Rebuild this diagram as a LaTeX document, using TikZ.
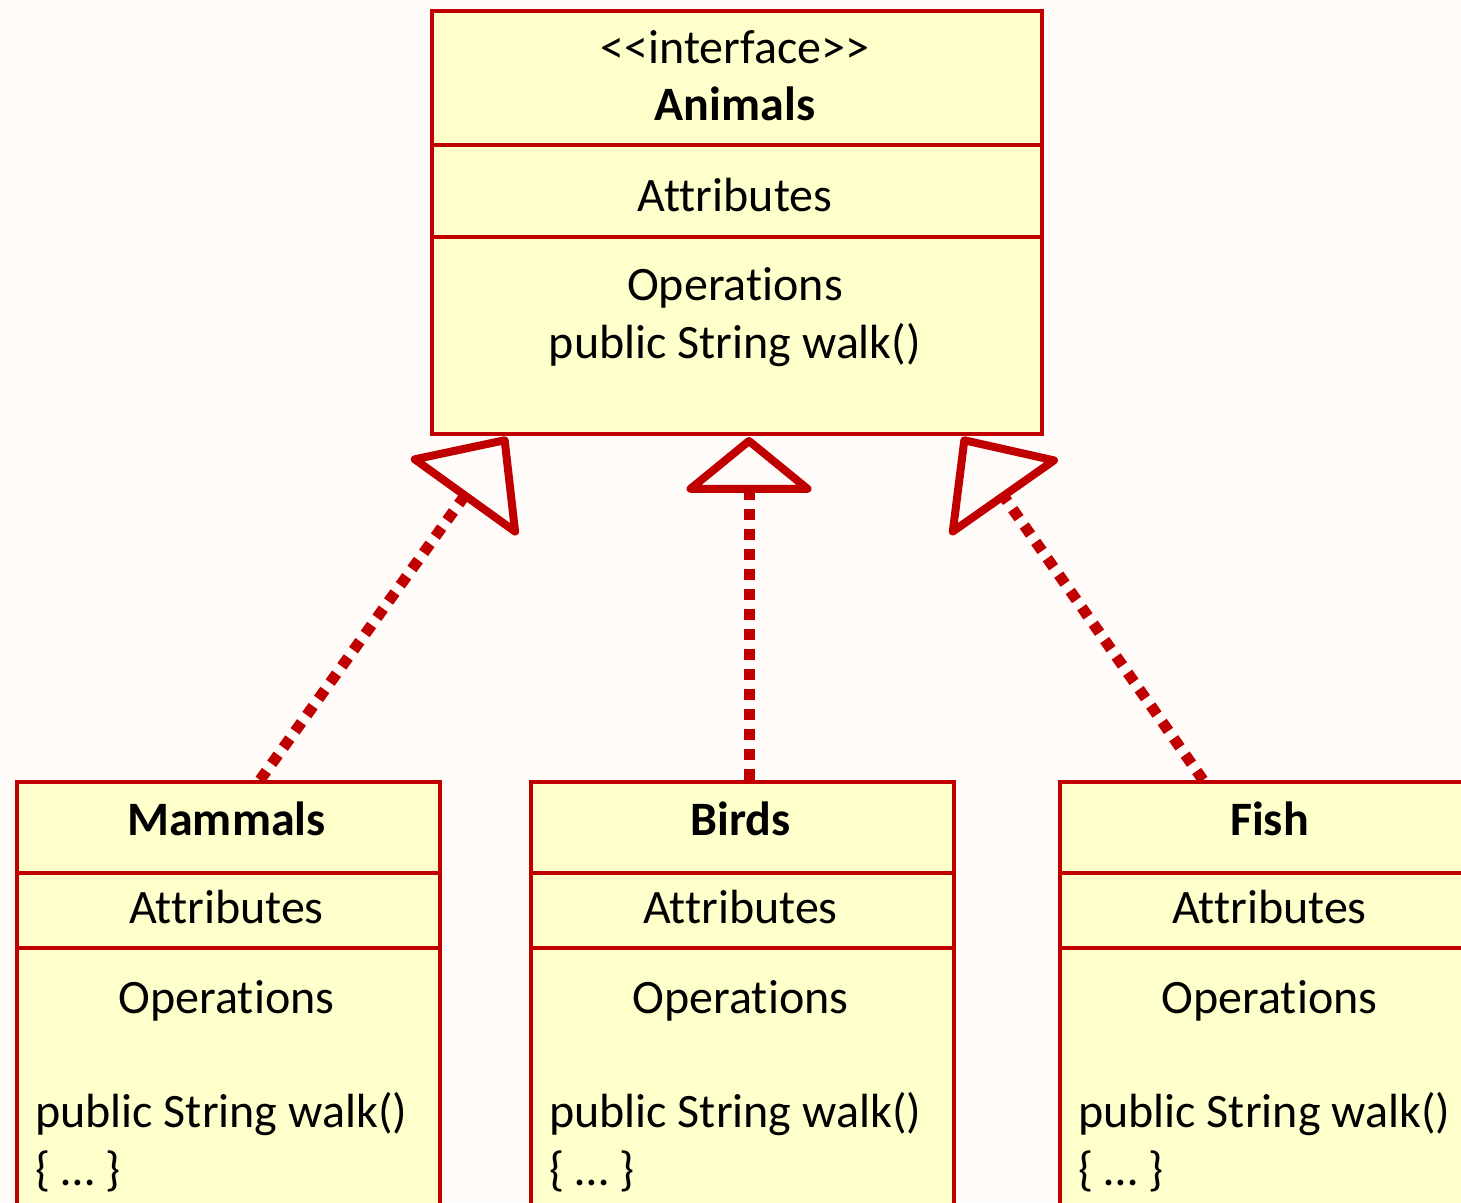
\documentclass[tikz,border=0pt]{standalone}
\usepackage{fontspec}
\setmainfont[Ligatures={NoCommon,NoRequired}]{Carlito}
\usetikzlibrary{arrows.meta,calc}
\definecolor{umlred}{RGB}{192,0,0}
\definecolor{umlfill}{RGB}{255,255,204}
\definecolor{paper}{RGB}{254,251,248}
\begin{document}
\begin{tikzpicture}[x=1pt,y=-1pt,
  classbox/.style={draw=umlred,fill=umlfill,line width=4pt,rectangle,
    anchor=north west,inner sep=0pt},
  divider/.style={draw=umlred,line width=3.5pt},
  txt/.style={font=\fontsize{48}{58}\selectfont,anchor=base,inner sep=0pt},
  clsname/.style={txt,font=\fontsize{48}{58}\selectfont\bfseries},
  lefttxt/.style={txt,anchor=base west},
  realize/.style={draw=umlred,line width=11pt,dash pattern=on 11pt off 9pt},
  sidetip/.style={-{Triangle[open,length=78pt,width=140pt,line width=8pt,round]}},
  uptip/.style={-{Triangle[open,length=57pt,width=138pt,line width=8pt,round]}}
]
\useasboundingbox (0,0) rectangle (1461,1202);
\clip (0,0) rectangle (1461,1202);
\fill[paper] (0,0) rectangle (1461,1202);

% interface
\node[classbox,minimum width=610pt,minimum height=423pt] (animals) at (430,9) {};
\draw[divider] (animals.west |- 0,145) -- (animals.east |- 0,145);
\draw[divider] (animals.west |- 0,237) -- (animals.east |- 0,237);
\node[txt] (aster) at (735,63) {{<}{<}interface{>}{>}};
\node[clsname] (aname) at (735,120) {Animals};
\node[txt] (aattr) at (735,211) {Attributes};
\node[txt] (aops) at (735,300) {Operations};
\node[txt] (awalk) at (735,358) {public String walk()};

% implementing classes
\foreach \id/\x/\name in {mammals/15/Mammals,birds/529/Birds,fish/1058/Fish}{
  \node[classbox,minimum width=423pt,minimum height=460pt] (\id) at (\x,780) {};
  \draw[divider] (\id.west |- 0,873) -- (\id.east |- 0,873);
  \draw[divider] (\id.west |- 0,948) -- (\id.east |- 0,948);
  \node[clsname] (\id-name) at ($(\id.north west)+(211.5,55)$) {\name};
  \node[txt] (\id-attr) at ($(\id.north west)+(211.5,143)$) {Attributes};
  \node[txt] (\id-ops) at ($(\id.north west)+(211.5,233)$) {Operations};
  \node[lefttxt] (\id-walk) at ($(\id.north west)+(20,347)$) {public String walk()};
  \node[lefttxt] (\id-body) at ($(\id.north west)+(20,405)$) {\{ … \}};
}

% realization arrows
\coordinate (tipL) at (507,437);
\coordinate (tipC) at (749,437);
\coordinate (tipR) at (962,437);
\draw[realize,sidetip] ([xshift=245pt]mammals.north west) -- (tipL);
\draw[realize,uptip] ([xshift=220pt]birds.north west) -- (tipC);
\draw[realize,sidetip] ([xshift=145pt]fish.north west) -- (tipR);
\end{tikzpicture}
\end{document}
